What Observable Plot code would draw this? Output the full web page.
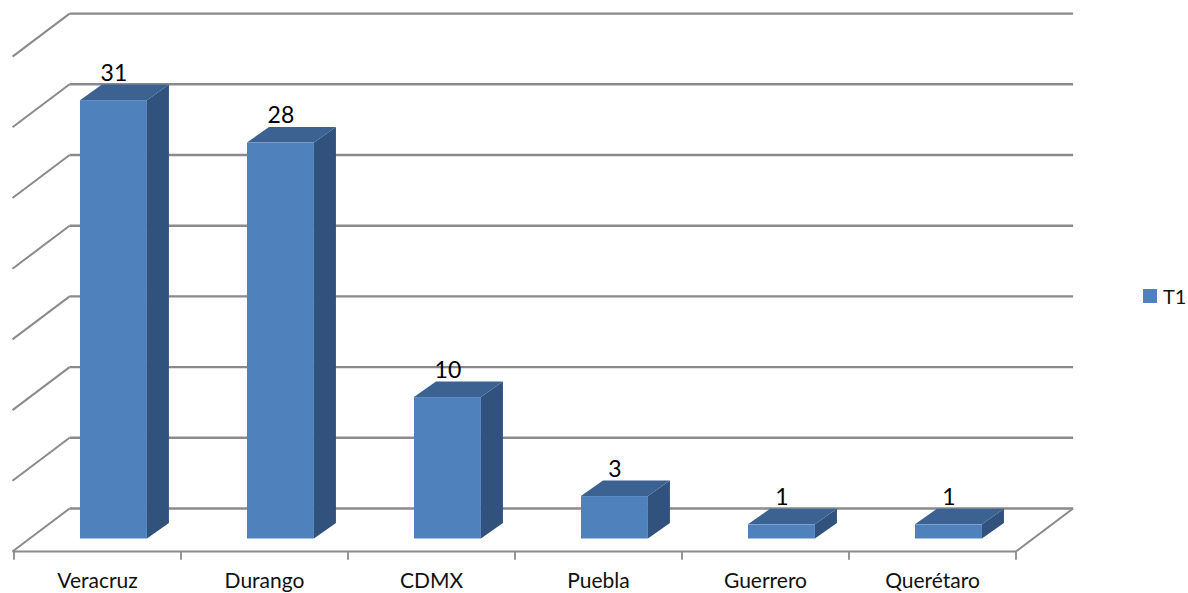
<!DOCTYPE html>
<html>
<head>
<meta charset="utf-8">
<script src="https://cdn.jsdelivr.net/npm/d3@7"></script>
<script src="https://cdn.jsdelivr.net/npm/@observablehq/plot@0.6"></script>
<style>
  html, body { margin: 0; padding: 0; background: #fff; }
  #chart { position: relative; width: 1188px; height: 593px; overflow: hidden; }
  #chart svg { display: block; }
  #legend { position: absolute; left: 1143px; top: 284px; height: 24px; display: flex; align-items: center;
            font: 20px Lato, "Open Sans", sans-serif; color: #111; }
  #legend i { display: block; width: 14px; height: 14px; background: #4F81BD; margin-right: 6px; }
</style>
</head>
<body>
<div id="chart">
  <div id="legend"><i></i><span id="series-name"></span></div>
</div>
<script>
const categories = ["Veracruz", "Durango", "CDMX", "Puebla", "Guerrero", "Querétaro"];
const seriesName = "T1";
const values = [31, 28, 10, 3, 1, 1];
const gridTicks = [0, 5, 10, 15, 20, 25, 30, 35];

// 3D projection of the chart, in data units (categories horizontally, values vertically)
const wallDx = 0.342, wallStart = -0.009, wallBack = 2.157, wallFront = -0.884, tickLen = 0.58;
const barLeft = 0.398, barRight = 0.799, barDx = 0.1317, barDy = 1.1;

const ink = "#8a8a8a", front = "#4F81BD", side = "#31527C", top_ = "#3C6292";
const font = "Lato, 'Open Sans', sans-serif";

const bars = values.map((v, i) => ({name: categories[i], v, i}));
const sideFaces = bars.flatMap(b => [
  {i: b.i, x: b.i + barRight, y1: 0, y2: b.v},
  {i: b.i, x: b.i + barRight + barDx, y1: barDy, y2: b.v + barDy}
]);
const topFaces = bars.flatMap(b => [
  {i: b.i, x: b.i + barLeft, y1: b.v, y2: b.v},
  {i: b.i, x: b.i + barLeft + barDx, y1: b.v, y2: b.v + barDy},
  {i: b.i, x: b.i + barRight, y1: b.v, y2: b.v + barDy},
  {i: b.i, x: b.i + barRight + barDx, y1: b.v + barDy, y2: b.v + barDy}
]);
const edges = d3.range(categories.length + 1);

const chart = Plot.plot({
  width: 1188, height: 593,
  marginTop: 0, marginRight: 0, marginBottom: 0, marginLeft: 0,
  x: {domain: [0, categories.length], range: [13.5, 1015.5], axis: null},
  y: {domain: [0, 35], range: [538.5, 43.6], axis: null},
  marks: [
    // back wall gridlines
    Plot.link(gridTicks, {x1: wallDx + wallStart, x2: categories.length + wallDx, y1: d => d + wallBack, y2: d => d + wallBack, stroke: ink, strokeWidth: 2.4}),
    // side wall diagonals
    Plot.link(gridTicks, {x1: wallStart, x2: wallDx + wallStart, y1: d => d + wallFront, y2: d => d + wallBack, stroke: ink, strokeWidth: 2}),
    // floor
    Plot.link([0], {x1: wallStart, x2: categories.length, y1: wallFront, y2: wallFront, stroke: ink, strokeWidth: 2.2}),
    Plot.link([0], {x1: categories.length, x2: categories.length + wallDx, y1: wallFront, y2: wallBack, stroke: ink, strokeWidth: 2}),
    // category ticks
    Plot.link(edges, {x1: d => d, x2: d => d, y1: wallFront, y2: wallFront - tickLen, stroke: ink, strokeWidth: 1.8}),
    // bars
    Plot.areaY(sideFaces, {x: "x", y1: "y1", y2: "y2", z: "i", fill: side}),
    Plot.areaY(topFaces, {x: "x", y1: "y1", y2: "y2", z: "i", fill: top_}),
    Plot.rectY(bars, {x1: d => d.i + barLeft, x2: d => d.i + barRight, y1: 0, y2: "v", fill: front}),
    // value labels
    Plot.text(bars, {x: d => d.i + (barLeft + barRight) / 2, y: "v", text: d => String(d.v), dy: -27, fontSize: 23, fontFamily: font, fill: "#000"}),
    // category labels
    Plot.text(bars, {x: d => d.i + 0.5, y: wallFront, text: "name", dy: 29.5, fontSize: 21, fontFamily: font, fill: "#111"})
  ]
});
document.getElementById("chart").prepend(chart);
document.getElementById("series-name").textContent = seriesName;
</script>
</body>
</html>
